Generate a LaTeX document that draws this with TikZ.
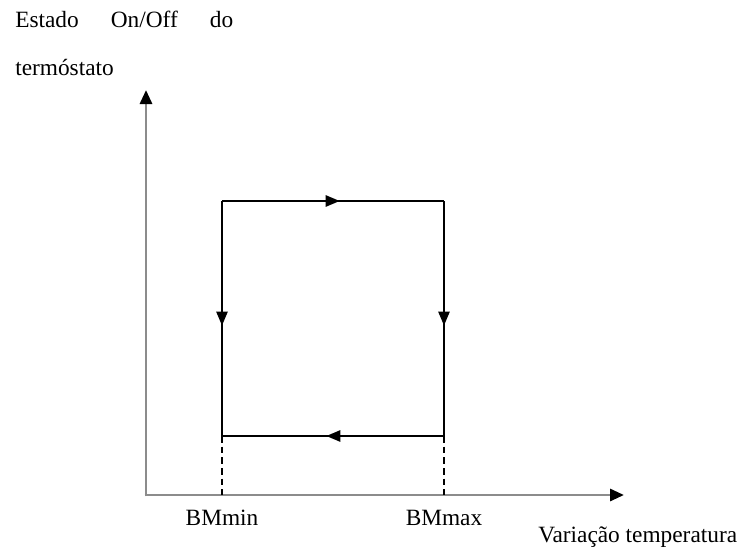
\documentclass[tikz,border=0pt]{standalone}
\usepackage{fontspec}
\setmainfont{Liberation Serif}
\usetikzlibrary{arrows.meta,decorations.markings}

\begin{document}
\begin{tikzpicture}[
    x=0.75pt, y=-0.75pt,
    axis/.style={line width=2.2pt, draw=black!45, -{Triangle[length=10.5pt, width=9pt, color=black]}},
    cycle/.style={line width=1.3pt, postaction={decorate},
        decoration={markings, mark=at position 0.53 with {\arrow{Triangle[length=10.5pt, width=8.5pt]}}}},
    guide/.style={line width=1pt, dash pattern=on 5pt off 3pt},
    lbl/.style={font=\fontsize{17.5}{21}\selectfont, inner sep=0pt}
]
    \useasboundingbox (0,0) rectangle (744,550);

    % axes
    \coordinate (O) at (146,495);
    \coordinate (ytop) at (146,90);
    \coordinate (xend) at (624,495);
    \draw[axis] ([yshift=-1pt]O) -- (ytop);
    \draw[axis] ([xshift=-1pt]O) -- (xend);

    % hysteresis loop
    \coordinate (tl) at (222,201);
    \coordinate (tr) at (444,201);
    \coordinate (br) at (444,436);
    \coordinate (bl) at (222,436);
    \draw[cycle] (tl) -- (tr);
    \draw[cycle] (tr) -- (br);
    \draw[cycle] (br) -- (bl);
    \draw[cycle] (tl) -- (bl);

    % limits down to the axis
    \coordinate (pmin) at (222,495);
    \coordinate (pmax) at (444,495);
    \draw[guide] (bl) -- (pmin);
    \draw[guide] (br) -- (pmax);

    \node[lbl, anchor=base] (bmmin) at (222,525) {BMmin};
    \node[lbl, anchor=base] (bmmax) at (444,525) {BMmax};
    \node[lbl, anchor=base west] (xlabel) at (538,542) {Variação temperatura};
    \node[lbl, anchor=base west, text width=163.5pt, align=justify] (ylabel1) at (15,27) {Estado\hfill On/Off\hfill do};
    \node[lbl, anchor=base west] (ylabel2) at (15,75) {termóstato};
\end{tikzpicture}
\end{document}
